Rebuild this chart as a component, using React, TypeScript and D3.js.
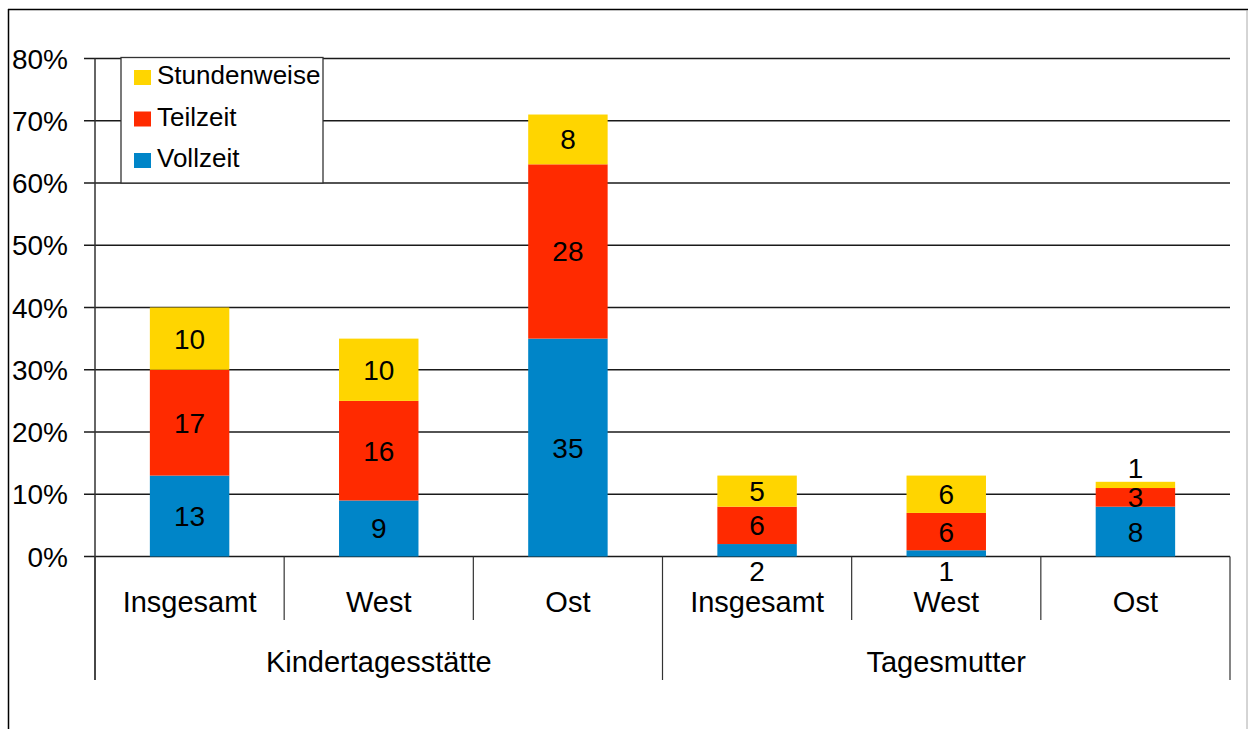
import { useEffect, useRef } from "react";
import * as d3 from "d3";

const groups = ["Kindertagesstätte", "Tagesmutter"];
const categories = ["Insgesamt", "West", "Ost", "Insgesamt", "West", "Ost"];
const categoryGroup = [0, 0, 0, 1, 1, 1];
const seriesNames = ["Vollzeit", "Teilzeit", "Stundenweise"];
const vollzeit = [13, 9, 35, 2, 1, 8];
const teilzeit = [17, 16, 28, 6, 6, 3];
const stundenweise = [10, 10, 8, 5, 6, 1];
const yTicks = [0, 10, 20, 30, 40, 50, 60, 70, 80];
const colors = ["#0085C8", "#FF2A00", "#FFD500"];

export default function App() {
  const ref = useRef<SVGSVGElement>(null);

  useEffect(() => {
    if (!ref.current) return;
    document.body.style.margin = "0";
    const svg = d3.select(ref.current);
    svg.selectAll("*").remove();

    const width = 1248;
    const height = 729;
    const left = 95;
    const right = 1230;
    const top = 58.5;
    const bottom = 556.5;
    const font = "'Liberation Sans', Arial, sans-serif";

    const keys = categories.map((c, i) => `${i}-${c}`);
    const rows = keys.map((k, i) => ({
      key: k,
      Vollzeit: vollzeit[i],
      Teilzeit: teilzeit[i],
      Stundenweise: stundenweise[i],
    }));

    const x = d3.scaleBand().domain(keys).range([left, right]).padding(0);
    const y = d3.scaleLinear().domain([0, 80]).range([bottom, top]);
    const barW = x.bandwidth() * 0.42;

    // outer frame
    svg.append("line").attr("x1", 8.5).attr("x2", 8.5).attr("y1", 9).attr("y2", height)
      .attr("stroke", "#000").attr("stroke-width", 1.5);
    svg.append("line").attr("x1", 8).attr("x2", width).attr("y1", 9.5).attr("y2", 9.5)
      .attr("stroke", "#000").attr("stroke-width", 1.5);
    svg.append("line").attr("x1", 1247).attr("x2", 1247).attr("y1", 10).attr("y2", height)
      .attr("stroke", "#aaa").attr("stroke-width", 1);

    // gridlines
    svg.append("g")
      .selectAll("line")
      .data(yTicks)
      .join("line")
      .attr("x1", 84)
      .attr("x2", right)
      .attr("y1", (d) => y(d))
      .attr("y2", (d) => y(d))
      .attr("stroke", "#1a1a1a")
      .attr("stroke-width", 1.5);

    // y tick labels
    svg.append("g")
      .selectAll("text")
      .data(yTicks)
      .join("text")
      .attr("x", 68)
      .attr("y", (d) => y(d) + 10)
      .attr("text-anchor", "end")
      .style("font-family", font)
      .style("font-size", "28px")
      .text((d) => `${d}%`);

    // bars
    const stack = d3.stack<any>().keys(seriesNames);
    const stacked = stack(rows);

    stacked.forEach((layer, si) => {
      svg.append("g")
        .selectAll("rect")
        .data(layer)
        .join("rect")
        .attr("x", (d) => (x(d.data.key) || 0) + (x.bandwidth() - barW) / 2)
        .attr("y", (d) => y(d[1]))
        .attr("width", barW)
        .attr("height", (d) => y(d[0]) - y(d[1]))
        .attr("fill", colors[si]);
    });

    // value labels
    stacked.forEach((layer, si) => {
      svg.append("g")
        .selectAll("text")
        .data(layer)
        .join("text")
        .attr("x", (d) => (x(d.data.key) || 0) + x.bandwidth() / 2)
        .attr("y", (d) => {
          const h = y(d[0]) - y(d[1]);
          let cy = (y(d[0]) + y(d[1])) / 2;
          if (h < 15 && si === 0) cy = bottom + 14;
          else if (h < 15 && si === seriesNames.length - 1) cy = y(d[1]) - 14;
          return cy + 10;
        })
        .attr("text-anchor", "middle")
        .style("font-family", font)
        .style("font-size", "28px")
        .text((d) => d[1] - d[0]);
    });

    // y axis line
    svg.append("line").attr("x1", left).attr("x2", left).attr("y1", top).attr("y2", 680)
      .attr("stroke", "#333").attr("stroke-width", 1.5);

    // category separators
    const bounds = keys.map((k) => x(k) || 0).concat([right]);
    svg.append("g")
      .selectAll("line")
      .data(bounds)
      .join("line")
      .attr("x1", (d) => d)
      .attr("x2", (d) => d)
      .attr("y1", bottom)
      .attr("y2", (_, i) => (i === 0 || i === bounds.length - 1 || categoryGroup[i] !== categoryGroup[i - 1] ? 680 : 620))
      .attr("stroke", "#333")
      .attr("stroke-width", 1.2);

    // category labels
    svg.append("g")
      .selectAll("text")
      .data(keys)
      .join("text")
      .attr("x", (d) => (x(d) || 0) + x.bandwidth() / 2)
      .attr("y", 612)
      .attr("text-anchor", "middle")
      .style("font-family", font)
      .style("font-size", "29px")
      .text((_, i) => categories[i]);

    // group labels
    svg.append("g")
      .selectAll("text")
      .data(groups)
      .join("text")
      .attr("x", (_, gi) => {
        const idx = categoryGroup.map((g, i) => (g === gi ? i : -1)).filter((i) => i >= 0);
        const x0 = x(keys[idx[0]]) || 0;
        const x1 = (x(keys[idx[idx.length - 1]]) || 0) + x.bandwidth();
        return (x0 + x1) / 2;
      })
      .attr("y", 672)
      .attr("text-anchor", "middle")
      .style("font-family", font)
      .style("font-size", "29px")
      .text((d) => d);

    // legend
    const legend = svg.append("g");
    legend.append("rect")
      .attr("x", 121).attr("y", 57.5).attr("width", 202).attr("height", 125.5)
      .attr("fill", "#fff").attr("stroke", "#333").attr("stroke-width", 1.3);
    const legendItems = seriesNames.slice().reverse();
    legendItems.forEach((name, i) => {
      const si = seriesNames.indexOf(name);
      const ly = 84 + i * 41.5;
      legend.append("rect")
        .attr("x", 134).attr("y", ly - 14).attr("width", 17).attr("height", 15)
        .attr("fill", colors[si]);
      legend.append("text")
        .attr("x", 157).attr("y", ly)
        .style("font-family", font)
        .style("font-size", "26px")
        .text(name);
    });
  }, []);

  return <svg ref={ref} width={1248} height={729} style={{ display: "block" }}></svg>;
}
